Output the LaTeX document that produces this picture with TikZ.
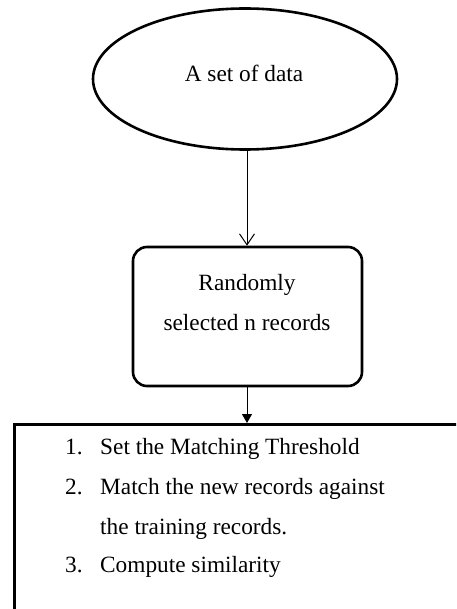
\documentclass[tikz,border=0pt]{standalone}
\usepackage{fontspec}
\setmainfont{Liberation Serif}
\usetikzlibrary{shapes.geometric,arrows.meta}

\tikzset{
  txt/.style={inner sep=0pt, font=\fontsize{23.3}{40}\selectfont},
  thickline/.style={draw=black, line width=2.6pt},
  flow/.style={draw=black, line width=1pt},
}

\begin{document}
\begin{tikzpicture}[x=1pt, y=-1pt]
  \useasboundingbox (0,0) rectangle (456,609);
  \clip (0,0) rectangle (456,609);
  \fill[white] (0,0) rectangle (456,609);

  % start: the input data
  \node[ellipse, thickline, minimum width=304pt, minimum height=141pt, inner sep=0pt]
    (data) at (245,79) {};
  \node[txt, anchor=base] (datatxt) at (244,82) {A set of data};

  % sampling step
  \node[rectangle, rounded corners=14pt, thickline, minimum width=229pt, minimum height=139pt, inner sep=0pt]
    (sel) at (247.5,316.5) {};
  \node[txt, anchor=base] (seltxt1) at (247,290) {Randomly};
  \node[txt, anchor=base] (seltxt2) at (247,330) {selected n records};

  % matching steps (box runs past the page edge)
  \node[rectangle, thickline, minimum width=470pt, minimum height=220pt, inner sep=0pt, anchor=north west]
    (steps) at (13,423) {};
  \node[txt, anchor=base west] (n1) at (65,454) {1.};
  \node[txt, anchor=base west] (s1) at (100,454) {Set the Matching Threshold};
  \node[txt, anchor=base west] (n2) at (65,494) {2.};
  \node[txt, anchor=base west] (s2) at (100,494) {Match the new records against};
  \node[txt, anchor=base west] (s2b) at (100,534) {the training records.};
  \node[txt, anchor=base west] (n3) at (65,572) {3.};
  \node[txt, anchor=base west] (s3) at (100,572) {Compute similarity};

  % connectors
  \coordinate (a1) at (247,0);
  \draw[flow, -{Straight Barb[length=11pt, width=15pt, line width=1pt]}]
    (a1 |- data.south) -- (a1 |- sel.north);
  \draw[flow, -{Triangle[length=9pt, width=10pt]}]
    (a1 |- sel.south) -- (a1 |- steps.north);
\end{tikzpicture}
\end{document}
